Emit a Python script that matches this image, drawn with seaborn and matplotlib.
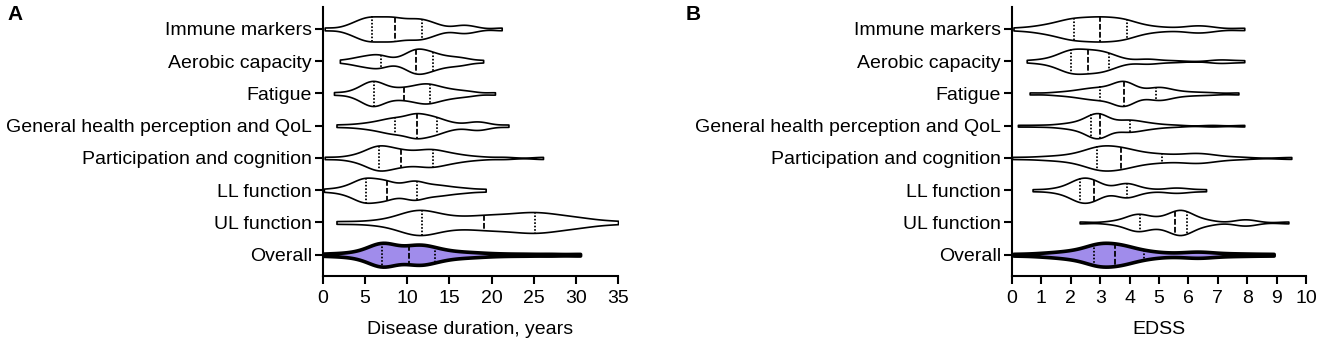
import numpy as np
import pandas as pd
import matplotlib
matplotlib.use("Agg")
import matplotlib.pyplot as plt
import seaborn as sns

categories = ["Immune markers", "Aerobic capacity", "Fatigue",
              "General health perception and QoL", "Participation and cognition",
              "LL function", "UL function", "Overall"]

# Panel A: disease duration, years
dur_immune = [0.2, 2.6, 3.4, 3.9, 4.3, 4.6, 4.9, 5.1, 5.4, 5.6, 5.8,
              6.1, 6.4, 6.7, 7.0, 7.3, 7.6, 7.9, 8.1, 8.3, 8.5,
              8.8, 9.2, 9.5, 9.9, 10.2, 10.6, 10.9, 11.2, 11.5, 11.7,
              12.0, 12.4, 12.8, 13.3, 14.0, 15.9, 16.5, 17.0, 18.0, 21.2]
dur_aerobic = [2.0, 3.4, 4.0, 4.5, 5.0, 5.4, 5.8, 6.2, 6.5, 6.7, 6.9,
               7.4, 8.3, 9.2, 9.7, 10.0, 10.3, 10.5, 10.7, 10.9, 11.0,
               11.1, 11.3, 11.5, 11.7, 11.9, 12.1, 12.4, 12.6, 12.8, 13.0,
               13.3, 13.7, 14.1, 14.5, 15.0, 15.5, 16.0, 16.6, 17.2, 19.0]
dur_fatigue = [1.3, 3.3, 4.1, 4.6, 4.9, 5.2, 5.4, 5.6, 5.8, 5.9, 6.0,
               6.2, 6.4, 6.6, 6.9, 7.2, 7.6, 8.1, 8.7, 9.2, 9.6,
               10.1, 10.5, 10.9, 11.2, 11.5, 11.8, 12.1, 12.3, 12.5, 12.7,
               13.0, 13.4, 13.8, 14.2, 14.7, 15.3, 16.0, 16.8, 17.8, 20.4]
dur_health = [1.6, 3.5, 4.8, 5.6, 6.3, 6.8, 7.3, 7.7, 8.0, 8.3, 8.5,
              8.9, 9.3, 9.6, 9.9, 10.2, 10.5, 10.7, 10.9, 11.0, 11.1,
              11.3, 11.5, 11.7, 12.0, 12.3, 12.6, 12.9, 13.1, 13.3, 13.5,
              13.9, 14.4, 15.0, 15.8, 17.3, 17.9, 18.3, 18.8, 19.6, 22.0]
dur_particip = [0.2, 2.8, 4.0, 4.7, 5.2, 5.6, 5.9, 6.1, 6.3, 6.5, 6.6,
                6.8, 7.0, 7.2, 7.5, 7.8, 8.1, 8.5, 8.8, 9.1, 9.3,
                9.8, 10.3, 10.8, 11.2, 11.6, 12.0, 12.4, 12.7, 12.9, 13.1,
                13.5, 13.9, 14.4, 14.9, 15.5, 16.2, 17.2, 18.8, 21.5, 26.1]
dur_ll = [0.1, 1.8, 2.7, 3.3, 3.8, 4.1, 4.4, 4.6, 4.8, 5.0, 5.1,
          5.3, 5.6, 5.9, 6.2, 6.5, 6.8, 7.1, 7.3, 7.5, 7.6,
          8.1, 8.7, 9.3, 9.8, 10.2, 10.5, 10.8, 11.0, 11.1, 11.2,
          11.8, 12.4, 12.9, 13.4, 13.9, 14.5, 15.2, 16.2, 17.3, 19.3]
dur_ul = [1.6, 5.5, 7.8, 9.0, 9.8, 10.3, 10.7, 11.0, 11.3, 11.5, 11.7,
          12.0, 12.5, 13.1, 13.8, 14.6, 15.5, 16.5, 17.5, 18.4, 19.1,
          19.7, 20.4, 21.1, 21.8, 22.5, 23.2, 23.8, 24.3, 24.8, 25.1,
          25.6, 26.2, 26.8, 27.4, 28.1, 28.9, 29.8, 30.8, 32.0, 35.0]
dur_overall = [0.0, 2.0, 3.4, 4.3, 5.0, 5.5, 5.9, 6.2, 6.4, 6.6, 6.8, 6.9,
               7.0,
               7.1, 7.2, 7.35, 7.5, 7.7, 7.9, 8.2, 8.6, 9.1, 9.7, 10.1,
               10.2,
               10.6, 10.9, 11.1, 11.3, 11.5, 11.6, 11.8, 12.0, 12.3, 12.7, 13.0,
               13.3,
               13.7, 14.2, 14.8, 15.5, 16.3, 17.2, 18.2, 19.5, 21.5, 24.0, 27.0,
               30.5]

# Panel B: EDSS
edss_immune = [0.05, 0.7, 1.0, 1.25, 1.45, 1.6, 1.75, 1.85, 1.95, 2.05, 2.1,
               2.2, 2.3, 2.4, 2.5, 2.6, 2.7, 2.8, 2.9, 2.95, 3.0,
               3.1, 3.2, 3.3, 3.4, 3.5, 3.6, 3.7, 3.8, 3.85, 3.9,
               4.05, 4.25, 4.5, 4.8, 5.3, 6.0, 6.25, 6.45, 6.8, 7.9]
edss_aerobic = [0.5, 1.0, 1.3, 1.5, 1.65, 1.75, 1.82, 1.88, 1.93, 1.97, 2.0,
                2.05, 2.1, 2.15, 2.2, 2.3, 2.4, 2.45, 2.5, 2.55, 2.6,
                2.7, 2.8, 2.85, 2.9, 3.0, 3.05, 3.1, 3.15, 3.2, 3.3,
                3.4, 3.55, 3.75, 4.45, 4.6, 4.75, 5.5, 7.0, 7.15, 7.9]
edss_fatigue = [0.6, 1.4, 1.8, 2.1, 2.3, 2.45, 2.6, 2.75, 2.85, 2.95, 3.0,
                3.2, 3.35, 3.45, 3.55, 3.6, 3.65, 3.7, 3.75, 3.78, 3.8,
                3.83, 3.87, 3.9, 3.95, 4.0, 4.1, 4.3, 4.6, 4.8, 4.9,
                4.95, 5.0, 5.1, 5.2, 5.35, 5.6, 5.9, 6.3, 6.8, 7.7]
edss_health = [0.2, 0.9, 1.5, 1.8, 2.0, 2.2, 2.35, 2.45, 2.55, 2.65, 2.7,
               2.75, 2.8, 2.85, 2.88, 2.9, 2.93, 2.95, 2.97, 2.99, 3.0,
               3.02, 3.05, 3.1, 3.2, 3.5, 3.65, 3.75, 3.85, 3.95, 4.0,
               4.05, 4.15, 4.3, 4.45, 4.6, 4.8, 5.1, 5.6, 6.8, 7.9]
edss_particip = [0.0, 0.9, 1.4, 1.8, 2.1, 2.3, 2.5, 2.65, 2.75, 2.85, 2.9,
                 2.95, 3.0, 3.05, 3.1, 3.2, 3.3, 3.4, 3.5, 3.6, 3.7,
                 3.75, 3.8, 3.9, 4.0, 4.15, 4.3, 4.5, 4.75, 4.95, 5.1,
                 5.4, 5.8, 6.0, 6.2, 6.35, 6.5, 6.7, 7.1, 7.8, 9.5]
edss_ll = [0.7, 1.3, 1.6, 1.8, 1.95, 2.05, 2.12, 2.18, 2.23, 2.27, 2.3,
           2.35, 2.4, 2.45, 2.5, 2.55, 2.6, 2.65, 2.7, 2.75, 2.8,
           2.85, 2.9, 3.0, 3.15, 3.5, 3.65, 3.75, 3.82, 3.87, 3.9,
           3.95, 4.05, 4.15, 4.35, 4.7, 5.3, 5.5, 5.7, 6.0, 6.6]
edss_ul = [2.3, 3.3, 3.7, 3.9, 4.05, 4.15, 4.2, 4.25, 4.3, 4.33, 4.35,
           4.45, 4.6, 4.75, 4.9, 5.05, 5.2, 5.35, 5.45, 5.5, 5.55,
           5.6, 5.63, 5.66, 5.7, 5.75, 5.8, 5.85, 5.9, 5.93, 5.95,
           6.05, 6.2, 6.35, 6.55, 6.8, 7.7, 7.85, 8.0, 8.2, 9.4]
edss_overall = [0.05, 0.8, 1.2, 1.5, 1.75, 1.95, 2.1, 2.25, 2.4, 2.55, 2.65, 2.75,
                2.8,
                2.85, 2.9, 2.95, 3.0, 3.02, 3.05, 3.1, 3.15, 3.2, 3.3, 3.42,
                3.5,
                3.58, 3.63, 3.68, 3.72, 3.76, 3.8, 3.85, 3.95, 4.1, 4.25, 4.4,
                4.5,
                4.7, 4.95, 5.3, 5.7, 6.1, 6.25, 6.4, 6.6, 7.0, 7.5, 8.1,
                8.9]

x_ticks_a = [0, 5, 10, 15, 20, 25, 30, 35]
x_ticks_b = [0, 1, 2, 3, 4, 5, 6, 7, 8, 9, 10]

panel_a = [dur_immune, dur_aerobic, dur_fatigue, dur_health, dur_particip,
           dur_ll, dur_ul, dur_overall]
panel_b = [edss_immune, edss_aerobic, edss_fatigue, edss_health, edss_particip,
           edss_ll, edss_ul, edss_overall]


def to_long(lists):
    rows = []
    for cat, vals in zip(categories, lists):
        for v in vals:
            rows.append({"category": cat, "value": v})
    return pd.DataFrame(rows)


sns.set_style("ticks")
plt.rcParams["font.family"] = ["Liberation Sans", "DejaVu Sans"]

W, H = 1320, 348
fig = plt.figure(figsize=(W / 100, H / 100), dpi=100)

PURPLE = "#A08CEB"
FS = 14


def style_inner(ax, start):
    new = ax.lines[start:]
    for i, ln in enumerate(new):
        if i % 3 == 1:
            ln.set_dashes((3.2, 1.2))
        else:
            ln.set_dashes((0.9, 1.0))
        ln.set_color("black")


def draw_panel(ax, lists, xlim, xticks, xlabel, bw):
    df = to_long(lists)
    main = df[df["category"] != "Overall"]
    over = df[df["category"] == "Overall"]
    n0 = len(ax.lines)
    sns.violinplot(data=main, x="value", y="category", order=categories,
                   orient="h", cut=0, inner="quart", density_norm="width",
                   width=0.78, bw_adjust=bw, color="white", saturation=1,
                   linecolor="black", linewidth=1.2,
                   inner_kws={"linewidth": 1.3}, ax=ax)
    style_inner(ax, n0)
    n1 = len(ax.lines)
    sns.violinplot(data=over, x="value", y="category", order=categories,
                   orient="h", cut=0, inner="quart", density_norm="width",
                   width=0.74, bw_adjust=bw, color=PURPLE, saturation=1,
                   linecolor="black", linewidth=2.6,
                   inner_kws={"linewidth": 1.3}, ax=ax)
    style_inner(ax, n1)
    ax.set_xlim(*xlim)
    ax.set_ylim(7.66, -0.68)
    ax.set_xticks(xticks)
    ax.set_xticklabels([str(t) for t in xticks])
    ax.set_xlabel(xlabel, fontsize=FS, labelpad=10, color="black")
    ax.set_ylabel("")
    sns.despine(ax=ax)
    for s in ["left", "bottom"]:
        ax.spines[s].set_linewidth(1.5)
        ax.spines[s].set_color("black")
    ax.tick_params(axis="both", length=6, width=1.5, labelsize=FS, pad=2,
                   color="black", labelcolor="black")
    ax.tick_params(axis="x", pad=4)


ax_a = fig.add_axes([323 / W, 1 - 276 / H, (618 - 323) / W, (276 - 7) / H])
draw_panel(ax_a, panel_a, (0, 35), x_ticks_a, "Disease duration, years", 0.5)

ax_b = fig.add_axes([1012 / W, 1 - 276 / H, (1306 - 1012) / W, (276 - 7) / H])
draw_panel(ax_b, panel_b, (0, 10), x_ticks_b, "EDSS", 0.5)

fig.text(7 / W, 1 - 15 / H, "A", fontsize=15, fontweight="bold", va="center",
         ha="left", color="black")
fig.text(686 / W, 1 - 15 / H, "B", fontsize=15, fontweight="bold", va="center",
         ha="left", color="black")

fig.savefig("out.png", dpi=100)
